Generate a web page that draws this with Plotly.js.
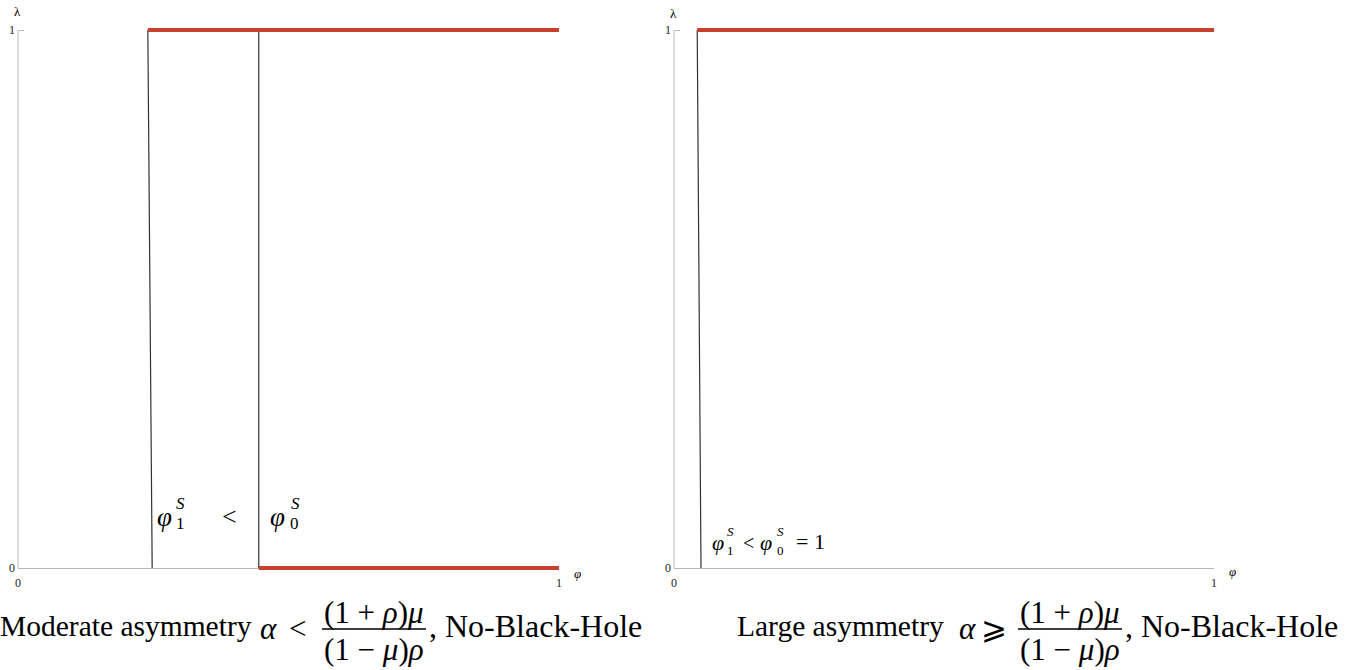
<!DOCTYPE html>
<html>
<head>
<meta charset="utf-8">
<script src="https://cdn.plot.ly/plotly-3.0.1.min.js"></script>
<style>html,body{margin:0;padding:0;background:#fff;}#chart{width:1362px;height:670px;}</style>
</head>
<body>
<div id="chart"></div>
<script>
// ---- data ----
const lambdaLevels = [1, 0];            // λ at top and bottom of the step lines
const leftPhi1 = [0.240, 0.248];        // φ1^S threshold (top, bottom) – left panel
const leftPhi0 = [0.445, 0.445];        // φ0^S threshold – left panel
const rightPhi1 = [0.043, 0.050];       // φ1^S threshold – right panel
const phiEnd = 1;                       // right end of the φ axis
const tickVals = [0, 1];
const tickText = ['0', '1'];

// ---- helpers ----
const W = 1362, H = 670;
const px = x => x / W;
const py = y => 1 - y / H;
const SERIF = '"Liberation Serif", "Times New Roman", serif';
const RED = '#c8412a';
const DARK = '#333333';
const AXC = '#b8b8b8';

function txt(text, x, y, size, xanchor) {
  return {text: text, x: px(x), y: py(y), xref: 'paper', yref: 'paper',
          xanchor: xanchor || 'center', yanchor: 'middle', showarrow: false,
          font: {family: SERIF, size: size, color: '#000'}};
}

const traces = [
  // left panel
  {x: leftPhi1, y: lambdaLevels, xaxis: 'x', yaxis: 'y', mode: 'lines', line: {color: DARK, width: 1.2}, hoverinfo: 'skip'},
  {x: leftPhi0, y: lambdaLevels, xaxis: 'x', yaxis: 'y', mode: 'lines', line: {color: DARK, width: 1.2}, hoverinfo: 'skip'},
  {x: [leftPhi1[0], phiEnd], y: [lambdaLevels[0], lambdaLevels[0]], xaxis: 'x', yaxis: 'y', mode: 'lines', line: {color: RED, width: 4}, hoverinfo: 'skip'},
  {x: [leftPhi0[1], phiEnd], y: [lambdaLevels[1], lambdaLevels[1]], xaxis: 'x', yaxis: 'y', mode: 'lines', line: {color: RED, width: 4}, hoverinfo: 'skip'},
  // right panel
  {x: rightPhi1, y: lambdaLevels, xaxis: 'x2', yaxis: 'y2', mode: 'lines', line: {color: DARK, width: 1.2}, hoverinfo: 'skip'},
  {x: [rightPhi1[0], phiEnd], y: [lambdaLevels[0], lambdaLevels[0]], xaxis: 'x2', yaxis: 'y2', mode: 'lines', line: {color: RED, width: 4}, hoverinfo: 'skip'}
];

const EXT = 0.01;                 // small padding so thick lines at λ=0,1 are not clipped
const yTop = 30, yBot = 568, unit = yBot - yTop;
const yDom = [py(yBot + EXT * unit), py(yTop - EXT * unit)];

function xaxis(domain) {
  return {domain: domain, anchor: 'free', position: py(yBot), range: [0, 1],
          tickvals: tickVals, ticktext: tickText, layer: 'below traces',
          ticks: 'inside', ticklen: 5, tickcolor: AXC, tickwidth: 1,
          showline: true, linecolor: AXC, linewidth: 1,
          showgrid: false, zeroline: false, fixedrange: true, ticklabelstandoff: 4,
          tickfont: {family: SERIF, size: 12, color: '#222'}};
}
function yaxis(xpos) {
  return {domain: yDom, anchor: 'free', position: px(xpos), range: [-EXT, 1 + EXT],
          tickvals: tickVals, ticktext: tickText, layer: 'below traces',
          ticks: 'inside', ticklen: 5, tickcolor: AXC, tickwidth: 1,
          showline: false, showgrid: false, zeroline: false, fixedrange: true, ticklabelstandoff: 3,
          tickfont: {family: SERIF, size: 12, color: '#222'}};
}
function vline(xp) {
  return {type: 'line', xref: 'paper', yref: 'paper', x0: px(xp), x1: px(xp), y0: py(yBot), y1: py(yTop),
          line: {color: AXC, width: 1}, layer: 'below'};
}
function bar(x0, x1, y) {
  return {type: 'line', xref: 'paper', yref: 'paper', x0: px(x0), x1: px(x1), y0: py(y), y1: py(y),
          line: {color: '#000', width: 1.3}};
}

const layout = {
  width: W, height: H, margin: {l: 0, r: 0, t: 0, b: 0},
  paper_bgcolor: '#fff', plot_bgcolor: '#fff', showlegend: false,
  xaxis: xaxis([px(18), px(559)]),
  yaxis: yaxis(18),
  xaxis2: xaxis([px(674), px(1214)]),
  yaxis2: yaxis(674),
  shapes: [vline(18), vline(674), bar(322, 426, 629), bar(1018, 1122, 629)],
  annotations: [
    // axis labels
    txt('λ', 17, 12, 13), txt('λ', 673, 13, 13),
    txt('<i>φ</i>', 577, 573, 13), txt('<i>φ</i>', 1232, 571, 13),
    // left panel in-plot labels
    txt('<i>φ</i>', 164, 517, 27), txt('<i>S</i>', 180, 503, 17), txt('1', 180, 523, 17),
    txt('<', 229, 516, 26),
    txt('<i>φ</i>', 277, 517, 27), txt('<i>S</i>', 295, 503, 17), txt('0', 294, 523, 17),
    // right panel in-plot label
    txt('<i>φ</i>', 718, 542, 22), txt('<i>S</i>', 731, 531, 13), txt('1', 731, 550, 13),
    txt('<', 748, 543, 20),
    txt('<i>φ</i>', 766, 542, 22), txt('<i>S</i>', 780, 531, 13), txt('0', 780, 550, 13),
    txt('= 1', 810, 541, 22),
    // left caption
    txt('Moderate asymmetry', 254, 626, 29.5, 'right'),
    txt('<i>α</i>', 268, 628, 31), txt('<', 297, 628, 31),
    txt('(1 + <i>ρ</i>)<i>μ</i>', 374, 612, 31),
    txt('(1 − <i>μ</i>)<i>ρ</i>', 374, 649, 31),
    txt(', No-Black-Hole', 427, 626, 32, 'left'),
    // right caption
    txt('Large asymmetry', 946, 626, 29.5, 'right'),
    txt('<i>α</i>', 967, 628, 31), txt('⩾', 994, 628, 31),
    txt('(1 + <i>ρ</i>)<i>μ</i>', 1070, 612, 31),
    txt('(1 − <i>μ</i>)<i>ρ</i>', 1070, 649, 31),
    txt(', No-Black-Hole', 1123, 626, 32, 'left')
  ]
};

Plotly.newPlot('chart', traces, layout, {displayModeBar: false, staticPlot: true});
</script>
</body>
</html>
